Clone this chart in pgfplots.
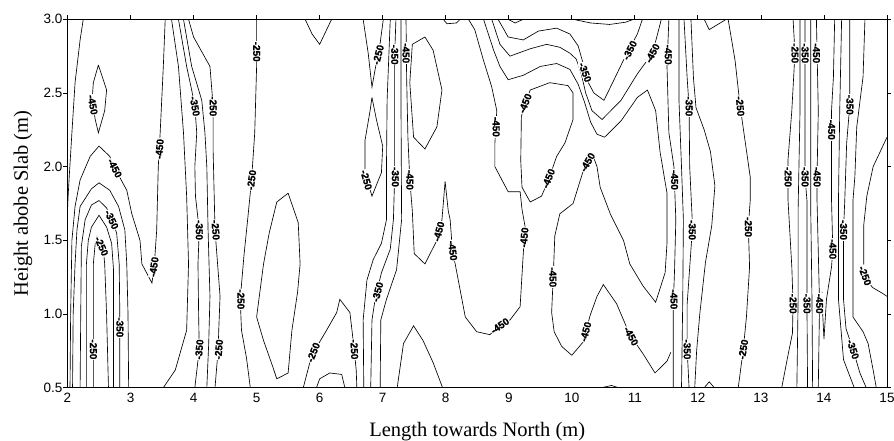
\documentclass[border=0pt]{standalone}
\usepackage{fontspec}
\setmainfont{Liberation Serif}
\newfontfamily\arialf{Liberation Sans}
\newfontfamily\labf[BoldFeatures={FakeBold=1.2}]{Liberation Sans}
\usepackage{pgfplots}
\pgfplotsset{compat=1.18}
\pgfplotsset{cl/.style={black, line width=0.65pt, mark=none}}
\begin{document}
\begin{tikzpicture}
\begin{axis}[
  scale only axis, width=819.5pt, height=368.4pt,
  xmin=2, xmax=15, ymin=0.5, ymax=3,
  xtick={2,3,...,15}, ytick={0.5,1,1.5,2,2.5,3},
  tick align=outside, major tick length=4pt,
  xtick pos=right, xticklabel pos=left,
  ytick pos=both, yticklabel pos=left,
  axis line style={line width=0.9pt},
  every tick/.style={black, line width=0.8pt},
  /pgf/number format/assume math mode=true,
  ticklabel style={font=\arialf\fontsize{13.5}{14}\selectfont, inner sep=1pt},
  yticklabel style={/pgf/number format/fixed, /pgf/number format/fixed zerofill, /pgf/number format/precision=1},
  xlabel={Length towards North (m)}, ylabel={Height abobe Slab (m)},
  label style={font=\fontsize{20.5}{22}\selectfont},
  xlabel style={at={(axis description cs:0.5,0)}, anchor=base, yshift=-49.3pt},
  ylabel style={at={(axis description cs:-0.0543,0.5)}, anchor=center},
]
\coordinate (bl) at (rel axis cs:0,0);
% ---- left region ----
\addplot[cl] coordinates {(2.25,3.0)(2.20,2.86)(2.12,2.57)(2.07,2.23)(2.03,1.95)(2.01,1.80)(2.0,1.7)};
\addplot[cl] coordinates {(2.04,0.5)(2.05,1.0)(2.07,1.50)(2.12,1.73)(2.20,1.91)(2.36,2.07)(2.44,2.11)(2.50,2.14)(2.67,2.07)(2.75,1.99)(2.94,1.84)(3.02,1.68)(3.15,1.50)(3.18,1.34)(3.34,1.21)(3.38,1.35)(3.415,1.57)(3.44,2.0)(3.47,2.23)(3.52,2.68)(3.55,3.0)};
\addplot[cl] coordinates {(2.08,0.5)(2.09,1.0)(2.12,1.34)(2.15,1.57)(2.20,1.73)(2.38,1.85)(2.50,1.89)(2.67,1.84)(2.81,1.73)(2.91,1.57)(2.94,1.34)(2.96,1.0)(2.97,0.5)};
\addplot[cl] coordinates {(2.20,0.5)(2.21,1.0)(2.22,1.46)(2.28,1.64)(2.38,1.74)(2.50,1.77)(2.62,1.72)(2.70,1.64)(2.78,1.55)(2.82,1.34)(2.83,1.0)(2.83,0.5)};
\addplot[cl] coordinates {(2.30,0.5)(2.30,1.34)(2.33,1.50)(2.38,1.59)(2.50,1.67)(2.62,1.59)(2.70,1.48)(2.73,1.30)(2.73,0.5)};
\addplot[cl] coordinates {(2.41,0.5)(2.41,1.34)(2.44,1.48)(2.47,1.525)(2.57,1.43)(2.59,1.34)(2.62,1.0)(2.65,0.5)};
\addplot[cl] coordinates {(2.49,2.69)(2.56,2.60)(2.62,2.52)(2.59,2.38)(2.49,2.23)(2.44,2.32)(2.39,2.45)(2.41,2.57)(2.49,2.69)};
% ---- 3.5 - 5 ----
\addplot[cl] coordinates {(3.65,3.0)(3.76,2.68)(3.84,2.23)(3.89,1.80)(3.92,1.34)(3.89,0.89)(3.71,0.62)(3.52,0.5)};
\addplot[cl] coordinates {(3.76,3.0)(3.89,2.68)(3.97,2.52)(4.02,2.41)(4.05,2.23)(4.02,2.0)(4.03,1.80)(4.09,1.57)(4.07,1.34)(4.08,1.0)(4.09,0.76)(4.02,0.5)};
\addplot[cl] coordinates {(3.84,3.0)(3.97,2.68)(4.13,2.45)(4.18,2.23)(4.21,2.0)(4.23,1.57)(4.26,1.12)(4.24,0.8)(4.21,0.5)};
\addplot[cl] coordinates {(3.92,3.0)(4.0,2.88)(4.26,2.68)(4.31,2.41)(4.31,2.11)(4.34,1.57)(4.42,1.12)(4.40,0.9)(4.39,0.76)(4.34,0.5)};
\addplot[cl] coordinates {(5.0,3.0)(5.0,2.68)(4.97,2.23)(4.92,1.91)(4.86,1.65)(4.80,1.40)(4.74,1.10)(4.76,0.89)(4.84,0.7)(4.90,0.5)};
\addplot[cl] coordinates {(5.50,1.82)(5.32,1.76)(5.20,1.55)(5.11,1.34)(5.0,0.98)(5.11,0.82)(5.25,0.65)(5.32,0.56)(5.50,0.60)(5.56,0.89)(5.65,1.15)(5.69,1.34)(5.66,1.62)(5.50,1.82)};
% ---- 5.7 - 8 ----
\addplot[cl] coordinates {(5.77,3.0)(5.88,2.9)(6.0,2.83)(6.10,2.92)(6.19,3.0)};
\addplot[cl] coordinates {(6.69,3.0)(6.77,2.77)(6.83,2.54)(6.88,2.66)(6.96,2.84)(7.01,3.0)};
\addplot[cl] coordinates {(6.83,2.47)(6.90,2.32)(7.0,2.14)(6.98,1.96)(6.83,1.80)(6.72,1.96)(6.72,2.18)(6.80,2.38)(6.83,2.47)};
\addplot[cl] coordinates {(5.74,0.5)(5.85,0.68)(5.93,0.76)(6.11,0.89)(6.27,1.01)(6.32,1.10)(6.48,1.01)(6.51,0.90)(6.55,0.75)(6.58,0.62)(6.59,0.5)};
\addplot[cl] coordinates {(5.95,0.5)(6.0,0.56)(6.16,0.60)(6.35,0.59)(6.40,0.5)};
\addplot[cl] coordinates {(6.70,0.5)(6.69,0.96)(6.75,1.23)(6.85,1.37)(6.98,1.48)(7.06,1.64)(7.06,2.0)(7.07,2.45)(7.12,3.0)};
\addplot[cl] coordinates {(6.81,0.5)(6.83,0.96)(6.88,1.10)(6.98,1.28)(7.12,1.44)(7.17,1.64)(7.19,1.93)(7.19,2.45)(7.19,2.76)(7.21,3.0)};
\addplot[cl] coordinates {(6.96,0.5)(6.97,0.96)(7.06,1.10)(7.22,1.30)(7.30,1.64)(7.29,2.45)(7.29,3.0)};
\addplot[cl] coordinates {(7.37,3.0)(7.38,2.6)(7.40,2.2)(7.43,1.91)(7.47,1.70)(7.50,1.41)(7.67,1.34)(7.86,1.50)(7.94,1.64)(7.99,1.90)(8.04,1.70)(8.07,1.64)(8.11,1.41)(8.15,1.34)(8.31,0.98)(8.49,0.88)(8.70,0.86)(8.86,0.92)(9.02,0.96)(9.18,1.05)(9.23,1.41)(9.26,1.59)(9.21,1.71)(9.18,1.83)(8.99,1.83)(8.78,2.0)(8.78,2.16)(8.81,2.38)(8.73,2.54)(8.60,2.72)(8.46,2.93)(8.36,3.0)};
\addplot[cl] coordinates {(7.67,2.88)(7.80,2.79)(7.94,2.52)(7.86,2.27)(7.67,2.12)(7.49,2.20)(7.43,2.57)(7.47,2.83)(7.67,2.88)};
\addplot[cl] coordinates {(7.23,0.5)(7.33,0.80)(7.49,0.92)(7.64,0.82)(7.80,0.67)(7.95,0.5)};
\addplot[cl] coordinates {(7.96,3.0)(8.02,2.97)(8.17,2.975)(8.23,3.0)};
% ---- 9 - 11.6 ----
\addplot[cl] coordinates {(9.20,2.34)(9.26,2.43)(9.34,2.52)(9.65,2.57)(9.94,2.55)(10.02,2.50)(10.02,2.32)(9.89,2.16)(9.76,2.07)(9.63,1.91)(9.52,1.80)(9.34,1.76)(9.21,1.86)(9.19,2.04)(9.20,2.34)};
\addplot[cl] coordinates {(8.83,3.0)(8.99,2.88)(9.23,2.86)(9.47,2.92)(9.76,2.94)(9.97,2.90)(10.10,2.82)(10.18,2.70)(10.25,2.58)(10.35,2.50)(10.51,2.45)(10.67,2.59)(10.85,2.75)(11.04,2.90)(11.12,3.0)};
\addplot[cl] coordinates {(8.73,3.0)(8.86,2.83)(9.02,2.75)(9.34,2.80)(9.60,2.83)(9.81,2.81)(9.97,2.77)(10.07,2.73)(10.15,2.63)(10.22,2.50)(10.32,2.38)(10.48,2.32)(10.78,2.45)(11.04,2.63)(11.28,2.77)(11.36,2.90)(11.42,3.0)};
\addplot[cl] coordinates {(8.60,3.0)(8.76,2.79)(8.86,2.68)(8.99,2.59)(9.23,2.62)(9.50,2.68)(9.76,2.70)(9.97,2.66)(10.10,2.56)(10.20,2.44)(10.30,2.30)(10.40,2.22)(10.52,2.20)(10.78,2.31)(11.04,2.47)(11.20,2.52)(11.33,2.38)(11.40,2.10)(11.51,1.82)(11.51,1.48)(11.48,1.28)(11.33,1.08)(11.13,1.19)(10.92,1.34)(10.82,1.50)(10.61,1.68)(10.45,1.86)(10.40,2.0)(10.33,2.08)(10.24,2.03)(10.18,1.97)(10.02,1.75)(9.81,1.68)(9.73,1.53)(9.71,1.30)(9.68,1.01)(9.72,0.88)(9.84,0.78)(10.0,0.72)(10.18,0.81)(10.29,0.99)(10.40,1.12)(10.50,1.20)(10.71,1.07)(10.92,0.86)(11.13,0.73)(11.32,0.60)(11.51,0.68)(11.57,0.74)};
\addplot[cl] coordinates {(8.99,3.0)(9.1,2.975)(9.23,3.0)};
\addplot[cl] coordinates {(10.02,3.0)(10.3,2.975)(10.6,2.965)(10.85,2.98)(10.98,3.0)};
\addplot[cl] coordinates {(10.47,0.5)(10.63,0.515)(10.74,0.5)};
% ---- 11.5 - 13 ----
\addplot[cl] coordinates {(11.54,3.0)(11.51,2.68)(11.54,2.23)(11.62,2.0)(11.65,1.64)(11.63,1.3)(11.61,1.07)(11.61,0.5)};
\addplot[cl] coordinates {(11.70,3.0)(11.70,2.45)(11.74,2.0)(11.77,1.64)(11.76,1.1)(11.74,0.5)};
\addplot[cl] coordinates {(11.78,3.0)(11.83,2.6)(11.86,2.41)(11.87,2.0)(11.91,1.64)(11.90,1.5)(11.83,1.07)(11.83,0.76)(11.86,0.5)};
\addplot[cl] coordinates {(11.89,3.0)(11.93,2.6)(11.97,2.40)(12.10,2.25)(12.20,2.10)(12.27,1.87)(12.22,1.60)(12.12,1.35)(12.03,1.0)(11.98,0.75)(11.95,0.5)};
\addplot[cl] coordinates {(12.10,0.5)(12.18,0.54)(12.26,0.5)};
\addplot[cl] coordinates {(12.10,3.0)(12.18,2.93)(12.45,3.0)};
\addplot[cl] coordinates {(12.48,3.0)(12.59,2.72)(12.67,2.41)(12.77,2.11)(12.83,1.93)(12.83,1.77)(12.80,1.59)(12.82,1.32)(12.77,0.98)(12.72,0.76)(12.64,0.5)};
% ---- 13.3 - 15 ----
\addplot[cl] coordinates {(13.51,3.0)(13.54,2.77)(13.49,2.38)(13.43,2.05)(13.43,1.77)(13.49,1.32)(13.51,1.07)(13.50,0.87)(13.42,0.7)(13.33,0.5)};
\addplot[cl] coordinates {(13.62,3.0)(13.62,2.38)(13.59,1.71)(13.59,1.10)(13.57,0.5)};
\addplot[cl] coordinates {(13.70,3.0)(13.70,1.93)(13.73,1.77)(13.73,1.07)(13.74,0.5)};
\addplot[cl] coordinates {(13.79,3.0)(13.79,1.71)(13.81,1.10)(13.82,0.5)};
\addplot[cl] coordinates {(13.88,3.0)(13.91,2.38)(13.89,1.93)(13.89,1.77)(13.93,1.07)(13.91,0.5)};
\addplot[cl] coordinates {(14.17,3.0)(14.15,2.61)(14.12,2.38)(14.12,1.77)(14.14,1.44)(14.12,1.32)(14.04,1.10)(14.0,0.83)(13.98,1.0)(13.97,1.15)};
\addplot[cl] coordinates {(14.28,3.0)(14.25,2.38)(14.23,1.77)(14.23,1.10)(14.31,0.69)(14.48,0.5)};
\addplot[cl] coordinates {(14.41,3.0)(14.41,2.42)(14.36,2.16)(14.33,1.77)(14.31,1.57)(14.31,1.10)(14.35,0.9)(14.46,0.76)(14.57,0.60)(14.67,0.5)};
\addplot[cl] coordinates {(14.65,3.0)(14.62,2.61)(14.52,2.27)(14.49,1.93)(14.46,1.77)(14.46,0.98)(14.62,0.88)(14.70,0.80)(14.78,0.62)(14.83,0.5)};
\addplot[cl] coordinates {(15.0,2.20)(14.78,2.0)(14.68,1.80)(14.63,1.60)(14.63,1.35)(14.65,1.25)(14.77,1.18)(14.93,1.14)(15.0,1.12)};
% ---- contour labels ----
\addplot[only marks, mark=none, nodes near coords={\pgfplotspointmeta}, point meta=explicit symbolic,
  visualization depends on={\thisrow{a}\as\ang},
  every node near coord/.append style={anchor=center, rotate=\ang, fill=white, inner sep=0.7pt, text=black, font=\labf\bfseries\fontsize{10}{10}\selectfont}]
 table[x=x, y=y, meta=t] {
x y a t
2.40 2.42 -80 -450
2.75 1.99 -63 -450
2.70 1.64 -65 -350
2.54 1.46 -66 -250
2.41 0.76 -90 -250
2.83 0.91 -90 -350
3.46 2.12 85 -450
3.37 1.32 82 -450
4.02 2.41 -80 -350
4.09 1.57 -90 -350
4.09 0.76 85 -350
4.31 2.41 -90 -250
4.35 1.57 -86 -250
4.40 0.76 85 -250
5.00 2.78 -90 -250
4.92 1.91 82 -250
4.75 1.10 -90 -250
6.93 2.76 75 -250
6.74 1.91 -75 -250
7.19 2.76 -90 -350
7.20 1.93 -90 -350
6.92 1.15 75 -350
7.37 2.77 -90 -450
7.43 1.91 -90 -450
7.89 1.56 75 -450
8.11 1.43 -83 -450
8.86 0.92 35 -450
9.245 1.52 85 -450
8.80 2.27 -90 -450
9.26 2.43 68 -450
9.63 1.92 68 -450
10.21 2.64 -70 -350
10.92 2.79 63 -350
11.28 2.77 62 -450
11.53 2.76 -90 -450
11.86 2.41 -90 -350
10.25 2.03 60 -450
9.70 1.25 -90 -450
10.22 0.88 75 -450
10.94 0.85 -62 -450
11.63 1.91 -90 -450
11.62 1.10 -90 -450
11.91 1.57 -90 -350
11.83 0.76 -90 -350
12.67 2.41 -85 -250
12.80 1.59 -90 -250
12.72 0.76 80 -250
13.54 2.77 -90 -250
13.70 2.77 -90 -350
13.88 2.77 -90 -450
13.43 1.93 -90 -250
13.70 1.93 -90 -350
13.89 1.93 -90 -450
13.51 1.07 -90 -250
13.73 1.07 -90 -350
13.93 1.07 -90 -450
14.12 2.25 -90 -450
14.14 1.44 -90 -450
14.41 2.42 -90 -350
14.31 1.57 -90 -350
14.46 0.76 -72 -350
14.65 1.26 -70 -250
5.90 0.74 68 -250
6.55 0.76 -88 -250
};
\end{axis}
\pgfresetboundingbox
\path[use as bounding box] ([shift={(-67.5pt,-53.3pt)}]bl) rectangle ++(894pt,441pt);
\end{tikzpicture}
\end{document}
